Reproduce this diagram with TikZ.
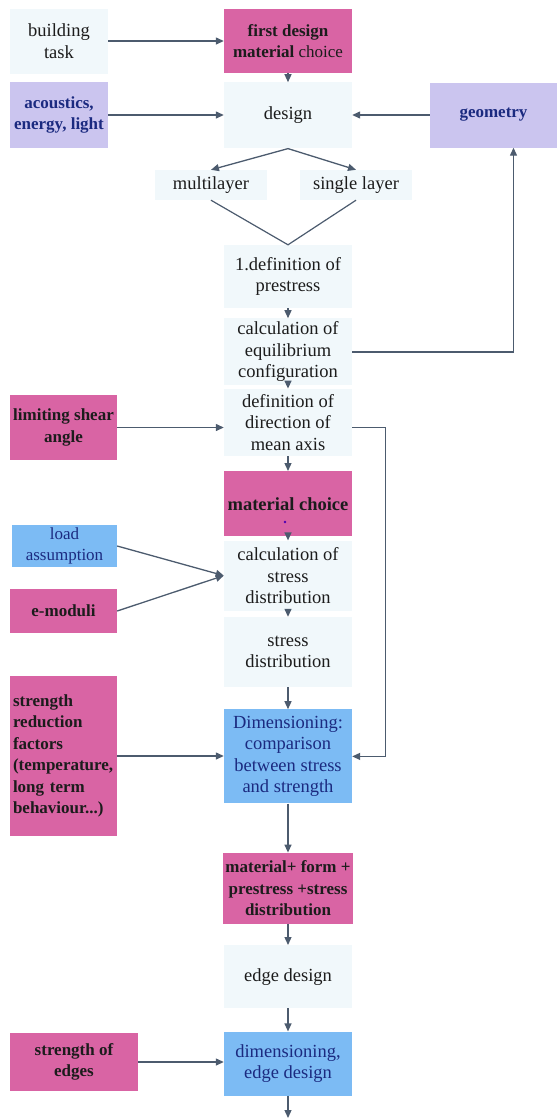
\documentclass[tikz,border=0pt]{standalone}
\usepackage{fontspec}
\setmainfont{Liberation Serif}
\usetikzlibrary{arrows.meta, positioning}

\definecolor{palebox}{HTML}{F1F8FB}
\definecolor{pinkbox}{HTML}{D964A4}
\definecolor{bluebox}{HTML}{7CBBF4}
\definecolor{lavbox}{HTML}{CBC5EF}
\definecolor{ink}{HTML}{1C1C1C}
\definecolor{navy}{HTML}{1B2A80}
\definecolor{linegray}{HTML}{4C5B6E}

\begin{document}
\begin{tikzpicture}[x=1pt, y=-1pt,
  box/.style={minimum width=128pt, minimum height=64pt, align=center, inner sep=2pt,
              font=\fontsize{18.5}{21.5}\selectfont, text=ink},
  pale/.style={box, fill=palebox},
  pink/.style={box, fill=pinkbox, font=\fontsize{17}{21.5}\selectfont\bfseries},
  blue/.style={box, fill=bluebox, text=navy},
  lav/.style={box, fill=lavbox, text=navy, font=\fontsize{17}{21.5}\selectfont\bfseries},
  flow/.style={draw=linegray, line width=1.3pt, -{Triangle[length=8pt, width=7pt]}},
  plain/.style={draw=linegray, line width=1.2pt}]
  \useasboundingbox (0,0) rectangle (559,1120);

  % main column
  \node[pink] (mat1) at (288,41) {first design\\material {\mdseries choice}};
  \node[pale, below=9pt of mat1, minimum height=66pt] (design) {design};
  \node[pale, minimum width=112pt, minimum height=30pt] (multi) at (211,185) {multilayer};
  \node[pale, minimum width=112pt, minimum height=30pt] (single) at (356,185) {single layer};
  \node[pale, minimum height=63pt] (prestress) at (288,276.5) {1.definition of\\prestress};
  \node[pale, below=10pt of prestress, minimum height=67pt] (equil) {calculation of\\equilibrium\\configuration};
  \node[pale, below=3pt of equil, minimum height=67pt] (axis) {definition of\\direction of\\mean axis};
  \node[pink, below=15pt of axis, minimum height=65pt, font=\fontsize{18.5}{21.5}\selectfont\bfseries] (matchoice) {material choice};
  \node[pale, below=4pt of matchoice, minimum height=70pt] (stresscalc) {calculation of\\stress\\distribution};
  \node[pale, below=6pt of stresscalc, minimum height=70pt] (stressdist) {stress\\distribution};
  \node[blue, below=22pt of stressdist, minimum height=94pt] (dim) {Dimensioning:\\comparison\\between stress\\and strength};
  \node[pink, below=49pt of dim, minimum height=71pt] (form) {material+ form +\\prestress +stress\\distribution};
  \node[pale, below=21pt of form, minimum height=63pt] (edge) {edge design};
  \node[blue, below=23pt of edge] (dimedge) {dimensioning,\\edge design};
  \coordinate (out) at (288,1118);

  % inputs
  \node[pale, minimum width=98pt, minimum height=65pt] (task) at (59,41) {building\\task};
  \node[lav, minimum width=98pt, minimum height=66pt] (acoustics) at (59,115) {acoustics,\\energy, light};
  \node[lav, minimum width=127pt, minimum height=65pt] (geometry) at (493.5,115) {geometry};
  \node[pink, minimum width=107pt, minimum height=65pt] (shear) at (63.5,427.5) {limiting shear\\angle};
  \node[blue, minimum width=105pt, minimum height=42pt, font=\fontsize{17}{21}\selectfont] (load) at (64.5,546) {load\\assumption};
  \node[pink, minimum width=107pt, minimum height=44pt] (emod) at (63.5,611) {e-moduli};
  \node[pink, minimum width=107pt, minimum height=160pt, text width=101pt, inner xsep=3pt, align=left] (factors) at (63.5,756)
    {strength\\reduction\\factors\\(temperature,\\long term\\behaviour...)};
  \node[pink, minimum width=128pt, minimum height=58pt] (edges) at (74,1062) {strength of\\edges};

  \fill[blue!70!red] (285,522) circle (1.4pt);

  % connectors
  \draw[flow] (task) -- (mat1);
  \draw[flow] (mat1) -- (design);
  \draw[flow] (acoustics.east) -- (acoustics.east -| design.west);
  \draw[flow] (geometry.west) -- (geometry.west -| design.east);
  \draw[flow] (design.south) -- (multi.north);
  \draw[flow] (design.south) -- (single.north);
  \draw[plain] (multi.south) -- (prestress.north) -- (single.south);
  \draw[flow] (prestress) -- (equil);
  \draw[flow] (equil) -- (axis);
  \draw[flow] (equil.east) -| ([xshift=20pt]geometry.south);
  \draw[flow] (shear.east) -- (shear.east -| axis.west);
  \draw[flow] ([yshift=-5pt]axis.east) -- ++(33,0) |- (dim.east);
  \draw[flow] (axis) -- (matchoice);
  \draw[flow] (matchoice) -- (stresscalc);
  \draw[flow] (load.east) -- (stresscalc.west);
  \draw[flow] (emod.east) -- (stresscalc.west);
  \draw[flow] (stresscalc) -- (stressdist);
  \draw[flow] (stressdist) -- (dim);
  \draw[flow] (factors.east) -- (factors.east -| dim.west);
  \draw[flow] (dim) -- (form);
  \draw[flow] (form) -- (edge);
  \draw[flow] (edge) -- (dimedge);
  \draw[flow] (edges.east) -- (edges.east -| dimedge.west);
  \draw[flow] (dimedge) -- (out);
\end{tikzpicture}
\end{document}
